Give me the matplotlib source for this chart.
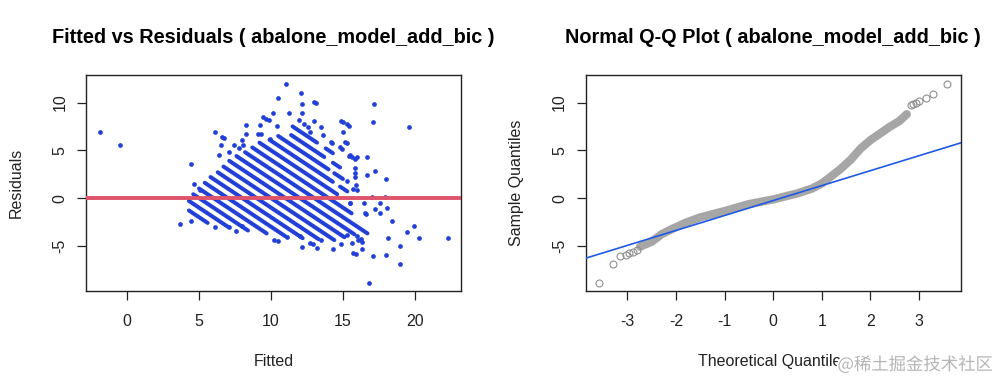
import matplotlib
matplotlib.use('Agg')
import matplotlib.pyplot as plt
import matplotlib.patheffects as pe

plt.rcParams['font.family'] = ['Liberation Sans', 'DejaVu Sans']
plt.rcParams['axes.unicode_minus'] = False  # R prints a plain hyphen

# --- left panel: fitted vs residuals -------------------------------------
# dense diagonal stripes: observed rings and the fitted range they cover
stripe_rings = [3, 4, 5, 6, 7, 8, 9, 10, 11, 12, 13, 14, 15, 16, 17, 18, 19,
                16, 17, 18, 19]
stripe_fit_lo = [4.3, 4.3, 4.6, 5.0, 5.4, 5.8, 6.3, 6.7, 7.1, 7.6, 8.2, 8.7, 9.2, 9.9, 10.5, 11.4, 11.5,
                 14.8, 14.4, 14.3, 13.8]
stripe_fit_hi = [5.6, 7.0, 8.4, 9.7, 11.0, 12.2, 13.3, 14.4, 15.1, 15.8, 16.7, 15.6, 14.6, 14.3, 14.0, 13.7, 13.2,
                 15.3, 15.0, 14.8, 14.3]

# single points outside the dense stripes
pt_fitted = [-1.88, -0.49, 3.68, 4.42, 4.42, 4.65, 5.07, 6.11, 7.1, 7.57, 7.99,
             6.13, 6.57, 6.74, 6.53, 6.39, 7.1, 7.96, 8.26, 8.26, 9.24, 9.28, 9.12, 9.93,
             10.39, 9.47, 9.66, 9.86, 10.12, 10.46, 11.04, 11.27, 12.06, 12.17, 12.13,
             13.0, 13.1, 11.94, 12.29, 12.6, 13.0, 13.5, 14.86, 15.02, 15.25, 15.45,
             15.02, 15.14, 15.25, 14.8, 14.95, 14.26, 14.2, 15.49, 15.65, 15.83, 15.83,
             16.64, 16.64, 15.83, 15.25, 17.15, 17.06, 19.58, 17.2, 18.0, 17.0, 17.9,
             16.48, 16.6, 17.6, 18.08, 17.57, 17.22, 18.38, 19.42, 19.95, 18.15, 20.28,
             22.27, 18.94, 17.06, 18.0, 18.94, 16.83, 15.72, 15.88, 16.34, 14.33, 14.84,
             16.06, 16.34, 15.49, 16.53, 10.46, 10.2, 11.09, 12.13, 12.0, 12.7, 12.9,
             13.2, 13.45, 15.25, 15.6, 16.0, 16.25, 15.7, 15.95, 15.5, 15.83, 15.9,
             15.95, 15.44, 12.7, 13.6, 7.45, 7.75, 8.05]
pt_resid = [6.9, 5.54, -2.72, -2.37, 3.59, 1.43, 0.84, -3.07, -3.0, -3.48, -2.89,
            6.93, 6.4, 6.24, 5.54, 4.56, 4.84, 6.06, 7.7, 6.69, 7.64, 6.76, 6.76, 6.14,
            7.56, 8.5, 8.32, 8.14, 8.92, 10.49, 11.95, 8.86, 11.0, 9.8, 8.86,
            10.07, 9.95, 8.16, 7.71, 7.4, 8.05, 7.46, 8.05, 7.98, 7.75, 7.55,
            6.9, 5.9, 5.8, 5.3, 5.15, 5.79, 5.89, 4.5, 4.35, 4.05, 3.17,
            4.32, 2.4, 2.16, 1.78, 9.9, 7.95, 7.39, 2.82, 1.99, 0.1, 0.1,
            -0.49, -1.67, -0.5, -1.08, -1.53, -1.18, -2.37, -3.52, -2.93, -4.22, -4.22,
            -4.22, -4.98, -6.03, -5.93, -6.94, -8.86, -5.72, -5.86, -5.34, -5.34, -4.81,
            -4.39, -4.63, -0.49, -1.6, -4.53, -4.35, -4.04, -5.16, -3.97, -4.67, -4.8,
            -5.26, -4.39, -3.87, -4.67, -3.97, -4.25, 1.0, 0.84, -0.56, 2.58, 1.36,
            4.32, 4.4, 6.94, 6.6, 5.55, 5.25, 5.6]

fit_ticks = [0, 5, 10, 15, 20]
resid_ticks = [-5, 0, 5, 10]

# --- right panel: normal Q-Q ----------------------------------------------
# centre of the dense band of sample quantiles
band_theo = [-2.74, -2.5, -2.3, -2.1, -1.8, -1.5, -1.0, -0.5, 0.0, 0.5, 0.8, 1.0,
             1.2, 1.4, 1.6, 1.8, 2.0, 2.2, 2.4, 2.6, 2.75]
band_sample = [-5.09, -4.56, -3.8, -3.28, -2.58, -2.02, -1.36, -0.63, -0.14, 0.49, 1.0, 1.53,
               2.3, 3.1, 4.04, 5.19, 6.06, 6.76, 7.46, 8.08, 8.78]
# single circles in the tails
tail_theo = [-3.58, -3.29, -3.15, -3.03, -2.96, -2.88, -2.81,
             2.83, 2.88, 2.94, 3.01, 3.14, 3.28, 3.58]
tail_sample = [-8.86, -6.9, -6.07, -5.96, -5.79, -5.6, -5.44,
               9.79, 9.9, 10.0, 10.14, 10.49, 10.94, 11.95]
qq_intercept = -0.26
qq_slope = 1.564
theo_ticks = [-3, -2, -1, 0, 1, 2, 3]

BLUE = '#2240d8'
RED = '#df536b'
GREY = '#a6a6a6'
INK = '#222222'


def style_axes(ax, xticks, yticks):
    for s in ax.spines.values():
        s.set_color(INK)
        s.set_linewidth(1.0)
    ax.set_xticks(xticks)
    ax.set_yticks(yticks)
    ax.set_yticklabels([str(t) for t in yticks], rotation=90, va='center')
    ax.tick_params(length=6.5, width=0.9, color=INK, labelcolor=INK, labelsize=11.5)
    ax.tick_params(axis='x', pad=10)
    ax.tick_params(axis='y', pad=7)


fig = plt.figure(figsize=(10, 3.82), dpi=100)

ax1 = fig.add_axes([0.086, 0.238, 0.375, 0.565])
for ring, lo, hi in zip(stripe_rings, stripe_fit_lo, stripe_fit_hi):
    ax1.plot([lo, hi], [ring - lo, ring - hi], color=BLUE, lw=2.9,
             solid_capstyle='round', zorder=2)
ax1.plot(pt_fitted, pt_resid, 'o', color=BLUE, ms=3.4, mew=0, zorder=2)
ax1.axhline(0, color=RED, lw=2.8, zorder=3)
ax1.set_xlim(-2.85, 23.2)
ax1.set_ylim(-9.74, 12.86)
style_axes(ax1, fit_ticks, resid_ticks)
ax1.set_title('Fitted vs Residuals ( abalone_model_add_bic )', fontsize=14.3,
              fontweight='bold', pad=23)
ax1.set_xlabel('Fitted', fontsize=11.5, color=INK)
ax1.xaxis.set_label_coords(0.5, -0.327)
ax1.xaxis.label.set_va('center')
ax1.set_ylabel('Residuals', fontsize=11.5, color=INK)
ax1.yaxis.set_label_coords(-0.185, 0.5)
ax1.yaxis.label.set_va('center')

ax2 = fig.add_axes([0.5857, 0.238, 0.375, 0.565])
ax2.plot(band_theo, band_sample, color=GREY, lw=6, solid_capstyle='round', zorder=2)
ax2.plot(tail_theo, tail_sample, 'o', mfc='none', mec='#8f8f8f', ms=5, mew=0.8, zorder=2)
ax2.axline((0, qq_intercept), slope=qq_slope, color='#1f5ae6', lw=1.2, zorder=3)
ax2.set_xlim(-3.86, 3.86)
ax2.set_ylim(-9.74, 12.86)
style_axes(ax2, theo_ticks, resid_ticks)
ax2.set_title('Normal Q-Q Plot ( abalone_model_add_bic )', fontsize=14.3,
              fontweight='bold', pad=23)
ax2.set_xlabel('Theoretical Quantiles', fontsize=11.5, color=INK)
ax2.xaxis.set_label_coords(0.5, -0.327)
ax2.xaxis.label.set_va('center')
ax2.set_ylabel('Sample Quantiles', fontsize=11.5, color=INK)
ax2.yaxis.set_label_coords(-0.184, 0.5)
ax2.yaxis.label.set_va('center')

# site watermark
fig.text(0.993, 0.045, '@稀土掘金技术社区', ha='right', va='center', fontsize=12.5,
         color='#b5b5b5', family=['Noto Sans CJK SC', 'DejaVu Sans'],
         path_effects=[pe.withStroke(linewidth=2.5, foreground='white')])

fig.savefig('out.png', dpi=100)
